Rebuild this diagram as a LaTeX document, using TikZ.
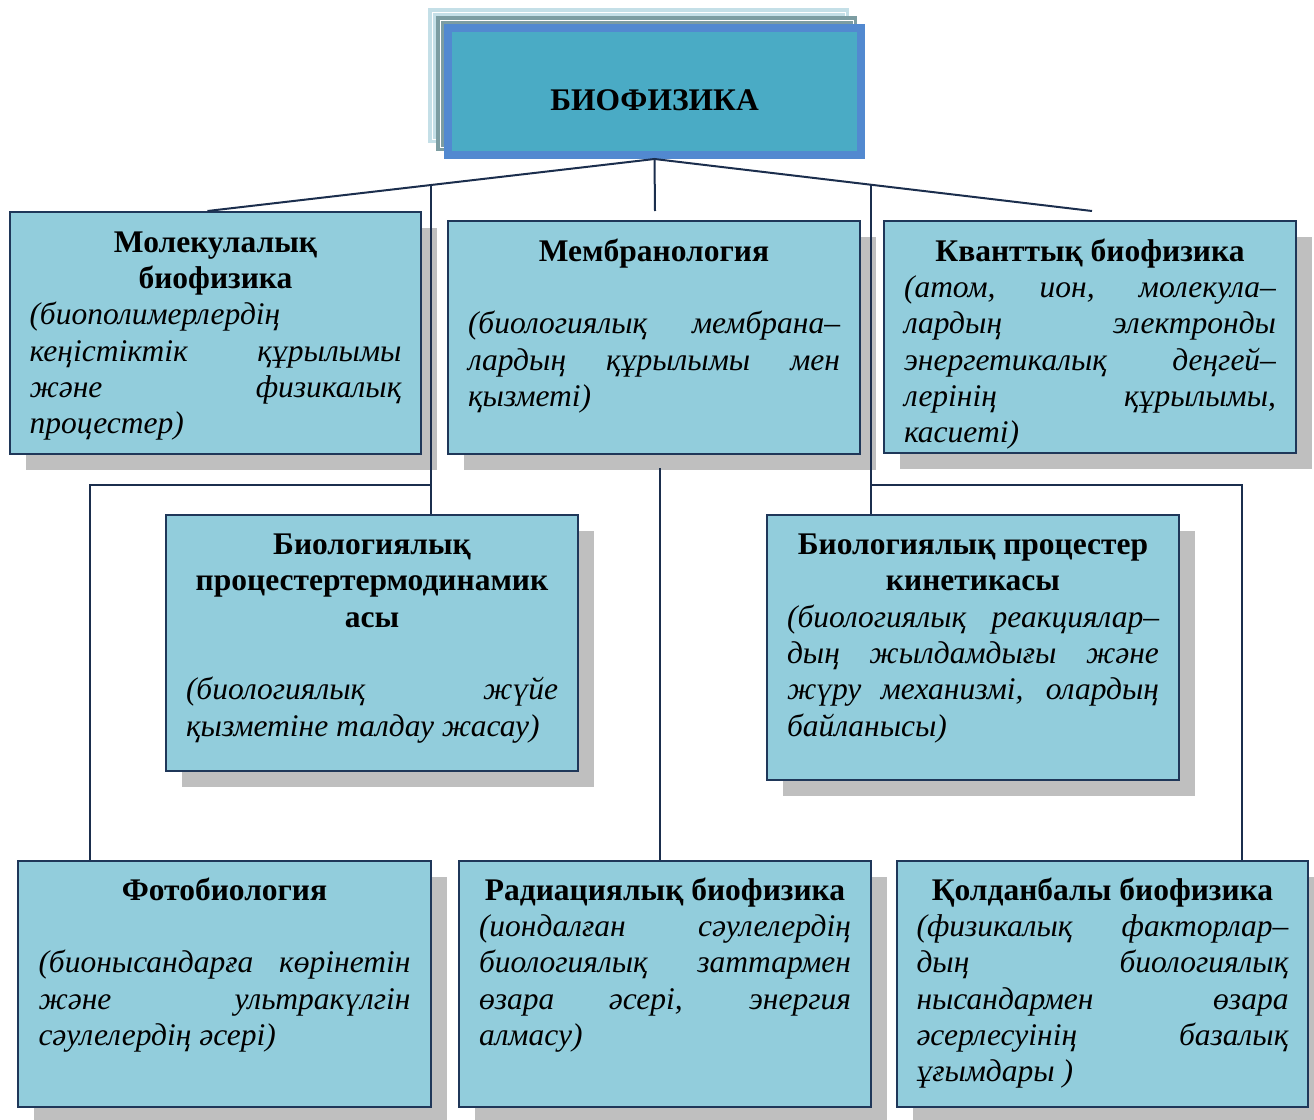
\documentclass[tikz,border=0pt]{standalone}
\usepackage{fontspec}
\setmainfont{Liberation Serif}
\usetikzlibrary{positioning,calc,shadows}
\setlength{\parindent}{0pt}
\hyphenpenalty=10000
\tolerance=10000
\definecolor{cardfill}{HTML}{92CDDC}
\definecolor{cardline}{HTML}{1F3759}
\definecolor{cardshade}{HTML}{BFBFBF}
\definecolor{linkline}{HTML}{1B2E4D}
\definecolor{topfill}{HTML}{4AABC5}
\definecolor{topline}{HTML}{5289D0}
\definecolor{backone}{HTML}{C4DFE7}
\definecolor{backtwo}{HTML}{7C9DA2}
\newcommand{\boxfont}{\fontsize{31.5}{36.3}\selectfont}

\begin{document}
\begin{tikzpicture}[x=1pt,y=-1pt,
    card/.style={draw=cardline,line width=2pt,fill=cardfill,anchor=north west,
      minimum width=412pt,inner sep=0pt,
      drop shadow={shadow xshift=16pt,shadow yshift=-16pt,fill=cardshade,opacity=1}},
    cardtext/.style={inner sep=0pt,anchor=north,text width=372pt,align=justify,font=\boxfont},
    link/.style={draw=linkline,line width=2pt}]
        \useasboundingbox (0,0) rectangle (1314,1119);

        % top box with its two layers behind
        \fill[backone] (428,8) rectangle (849,143);
        \draw[white,line width=1pt] (432,12) rectangle (845,139);
        \fill[backtwo] (436,16) rectangle (857,151);
        \draw[white,line width=1pt] (440,20) rectangle (853,147);
        \node[draw=topline,line width=8pt,fill=topfill,minimum width=413pt,minimum height=127pt,
          text height=37pt,text depth=0pt,inner sep=0pt,font=\boxfont\bfseries] (bio) at (654.5,91.5) {БИОФИЗИКА};

        % first row
        \node[card,minimum height=242pt,minimum width=411pt] (mol) at (9,211) {};
        \node[cardtext,below=15.6pt of mol.north] (mol-t) {{\centering\bfseries\strut Молекулалық\par биофизика\par}
          \itshape (биополимерлердің\linebreak кеңістіктік құрылымы\linebreak және физикалық\linebreak процестер)};

        \node[card,minimum height=233pt] (mem) at (447,220) {};
        \node[cardtext,below=15.6pt of mem.north] (mem-t) {{\centering\bfseries\strut Мембранология\par}\mbox{}\par
          \itshape (биологиялық мембрана–\linebreak лардың құрылымы мен\linebreak қызметі)};

        \node[card,minimum height=232pt] (kv) at (883,220) {};
        \node[cardtext,below=15.6pt of kv.north] (kv-t) {{\centering\bfseries\strut Кванттық биофизика\par}
          \itshape (атом, ион, молекула–\linebreak лардың электронды\linebreak энергетикалық деңгей–\linebreak лерінің құрылымы,\linebreak касиеті)};

        % second row
        \node[card,minimum height=256pt] (therm) at (165,514) {};
        \node[cardtext,below=15pt of therm.north] (therm-t) {{\centering\bfseries\strut Биологиялық\par процестертермодинамик\par асы\par}\mbox{}\par
          \itshape (биологиялық жүйе\linebreak қызметіне талдау жасау)};

        \node[card,minimum height=265pt] (kin) at (766,514) {};
        \node[cardtext,below=15pt of kin.north] (kin-t) {{\centering\bfseries\strut Биологиялық процестер\par кинетикасы\par}
          \itshape (биологиялық реакциялар–\linebreak дың жылдамдығы және\linebreak жүру механизмі, олардың\linebreak байланысы)};

        % third row
        \node[card,minimum height=246pt,minimum width=413pt] (photo) at (17,860) {};
        \node[cardtext,below=14.6pt of photo.north] (photo-t) {{\centering\bfseries\strut Фотобиология\par}\mbox{}\par
          \itshape (бионысандарға көрінетін\linebreak және ультракүлгін\linebreak сәулелердің әсері)};

        \node[card,minimum height=246pt] (rad) at (458,860) {};
        \node[cardtext,below=14.6pt of rad.north] (rad-t) {{\centering\bfseries\strut Радиациялық биофизика\par}
          \itshape (иондалған сәулелердің\linebreak биологиялық заттармен\linebreak өзара әсері, энергия\linebreak алмасу)};

        \node[card,minimum height=246pt,minimum width=411pt] (appl) at (896,860) {};
        \node[cardtext,below=14.6pt of appl.north] (appl-t) {{\centering\bfseries\strut Қолданбалы биофизика\par}
          \itshape (физикалық факторлар–\linebreak дың биологиялық\linebreak нысандармен өзара\linebreak әсерлесуінің базалық\linebreak ұғымдары )};

        % connectors
        \coordinate (lj) at (431,184);
        \coordinate (ls) at (431,485);
        \coordinate (lc) at (90,485);
        \coordinate (rj) at (871,184);
        \coordinate (rs) at (871,485);
        \coordinate (rc) at (1242,485);
        \coordinate (mt) at (655,211);
        \coordinate (kt) at (1092,211);
        \coordinate (mb) at (660,468);

        \draw[link] (kt) -- (bio.south) -- ($(mol.north)+(-8,0)$);% slanted arms
        \draw[link] (bio.south) -- (mt);
        \draw[link] (lj) -- (lj |- therm.north);
        \draw[link] (ls) -- (lc) -- (lc |- photo.north);
        \draw[link] (rj) -- (rj |- kin.north);
        \draw[link] (rs) -- (rc) -- (rc |- appl.north);
        \draw[link] (mb) -- (mb |- rad.north);
    \end{tikzpicture}
\end{document}
